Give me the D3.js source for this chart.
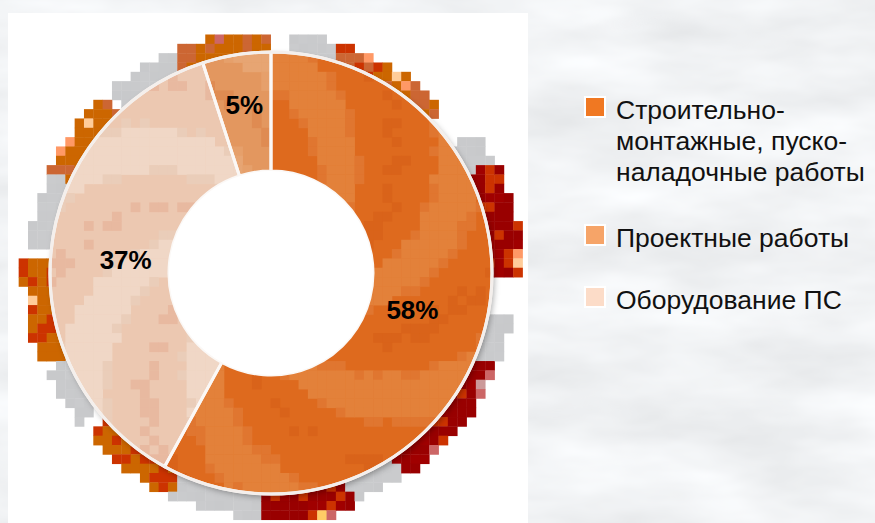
<!DOCTYPE html>
<html><head><meta charset="utf-8">
<script src="https://cdn.jsdelivr.net/npm/d3@7/dist/d3.min.js"></script>
<style>html,body{margin:0;padding:0;background:#e2e4e8;}svg{display:block;}</style>
</head><body>
<svg id="chart" width="875" height="523"></svg>
<script>
// ---- data ----
const categories = ["Строительно-монтажные, пуско-наладочные работы", "Проектные работы", "Оборудование ПС"];
const legendLines = [["Строительно-", "монтажные, пуско-", "наладочные работы"], ["Проектные работы"], ["Оборудование ПС"]];
const values = [58, 5, 37];
const labels = ["58%", "5%", "37%"];
const pieOrder = [0, 2, 1]; // clockwise from 12 o'clock
const swatchColors = ["#f07822", "#f6a468", "#fcdcc8"];
const sliceColors = ["#de6a1e", "#e3975f", "#ecc8b1"];
const sliceVariants = [
  ["#e3813a", "#e07630", "#d9631a"],
  ["#e7a573", "#e6a06b", "#df8b52"],
  ["#f0d7c6", "#eacdb9", "#e8b9a0"]
];
// decorative pixel rim: [startDeg, endDeg, extentPx, palette]
const GRAY = ["#c9cacc", "#cacbcd", "#c8c9cb"];
const DRED = ["#990000", "#990000", "#990000", "#a00000", "#cc3300"];
const RED = ["#cc3300", "#cc3300", "#cc3300", "#cc6633"];
const ORNG = ["#cc6600", "#cc6600", "#cc6600", "#cc6600", "#cc6633"];
const ORED = ["#cc6600", "#cc3300", "#cc6600", "#cc6600", "#cc3300"];
const rimSegments = [
  [318, 336, 22, GRAY], [336, 359, 22, ORNG], [5, 16, 20, GRAY], [16, 28, 18, RED],
  [28, 47, 18, ORNG], [55, 63, 28, GRAY], [63, 92, 31, DRED], [100, 112, 25, GRAY],
  [112, 146, 24, DRED], [146, 160, 22, GRAY], [160, 183, 30, DRED], [183, 204, 24, GRAY],
  [204, 228, 24, ORED], [232, 247, 22, GRAY], [248, 274, 27, ORED], [276, 295, 22, GRAY],
  [295, 316, 24, ORNG]
];
const edgeTints = ["#ffcc99", "#ffcc66", "#ff9966", "#cc9999", "#cc6666"];

// ---- layout ----
const W = 875, H = 523;
const cx = 271, cy = 273, R = 221, r0 = 102;
const cell = 9.33, gx0 = 0, gy0 = 6.5;
const svg = d3.select("#chart");
const defs = svg.append("defs");

// textured background
const f = defs.append("filter").attr("id", "clouds").attr("x", 0).attr("y", 0).attr("width", "100%").attr("height", "100%");
f.append("feTurbulence").attr("type", "fractalNoise").attr("baseFrequency", "0.006 0.018").attr("numOctaves", 4).attr("seed", 7);
f.append("feColorMatrix").attr("type", "matrix")
  .attr("values", "0.3 0 0 0 0.73  0.3 0 0 0 0.745  0.3 0 0 0 0.76  0 0 0 0 1");
svg.append("rect").attr("width", W).attr("height", H).attr("filter", "url(#clouds)");

// white panel
svg.append("rect").attr("x", 8).attr("y", 13).attr("width", 520).attr("height", H - 13).attr("fill", "#ffffff");

function hash(i, j) { const s = Math.sin(i * 12.9898 + j * 78.233) * 43758.5453; return s - Math.floor(s); }
function polar(x, y) {
  const dx = x - cx, dy = y - cy;
  let a = Math.atan2(dx, -dy) * 180 / Math.PI; if (a < 0) a += 360;
  return { d: Math.hypot(dx, dy), a };
}

// decorative rim cells
const rimG = svg.append("g");
for (let i = 0; gx0 + i * cell < 540; i++) {
  for (let j = -1; gy0 + j * cell < H; j++) {
    const x = gx0 + i * cell, y = gy0 + j * cell;
    const p = polar(x + cell / 2, y + cell / 2);
    if (p.d < R - 14) continue;
    const seg = rimSegments.find(s => p.a >= s[0] && p.a < s[1]);
    if (!seg) continue;
    if (p.d > R + seg[2]) continue;
    const h = hash(i, j);
    let col = seg[3][Math.floor(h * seg[3].length)];
    if (seg[3] !== GRAY && p.d > R + seg[2] - cell && hash(j, i) > 0.8) col = edgeTints[Math.floor(hash(i + 3, j) * edgeTints.length)];
    rimG.append("rect").attr("x", x).attr("y", y).attr("width", cell + 0.4).attr("height", cell + 0.4).attr("fill", col);
  }
}

// shadow
const sh = defs.append("filter").attr("id", "shadow").attr("x", "-20%").attr("y", "-20%").attr("width", "140%").attr("height", "140%");
sh.append("feDropShadow").attr("dx", 2).attr("dy", 3).attr("stdDeviation", 3).attr("flood-color", "#000").attr("flood-opacity", 0.35);

const g = svg.append("g").attr("transform", `translate(${cx},${cy})`);
g.append("circle").attr("r", R).attr("fill", "#fff").attr("filter", "url(#shadow)");

const data = categories.map((c, i) => ({ i, c, v: values[i] }));
const pie = d3.pie().value(d => d.v).sort((a, b) => pieOrder.indexOf(a.i) - pieOrder.indexOf(b.i));
const arcs = pie(data);
const arc = d3.arc().innerRadius(r0).outerRadius(R);

arcs.forEach((a, k) => {
  defs.append("clipPath").attr("id", "clip" + k).append("path").attr("d", arc(a)).attr("transform", `translate(${cx},${cy})`);
});

g.selectAll("path.slice").data(arcs).join("path").attr("class", "slice")
  .attr("d", arc).attr("fill", d => sliceColors[d.data.i]);

// pixel texture inside slices
const texG = svg.append("g");
arcs.forEach((a, k) => {
  const sg = texG.append("g").attr("clip-path", `url(#clip${k})`);
  const a0 = a.startAngle * 180 / Math.PI, a1 = a.endAngle * 180 / Math.PI;
  const vars = sliceVariants[a.data.i];
  for (let i = 0; gx0 + i * cell < 520; i++) {
    for (let j = -1; gy0 + j * cell < H; j++) {
      const x = gx0 + i * cell, y = gy0 + j * cell;
      const p = polar(x + cell / 2, y + cell / 2);
      if (p.d < r0 - cell || p.d > R + cell) continue;
      if (p.a < a0 - 4 || p.a > a1 + 4) continue;
      const h = hash(i, j);
      const v = Math.sin(p.a * Math.PI / 180 * 6 + p.d / 28) + (h - 0.5) * 0.35;
      let col = null;
      if (v > 0.55) col = vars[0];
      else if (v > 0.3) col = vars[1];
      else if (v < -0.85 && h > 0.4) col = vars[2];
      if (!col) continue;
      sg.append("rect").attr("x", x).attr("y", y).attr("width", cell + 0.4).attr("height", cell + 0.4).attr("fill", col);
    }
  }
});

// outlines
const og = svg.append("g").attr("transform", `translate(${cx},${cy})`);
og.selectAll("path").data(arcs).join("path").attr("d", arc)
  .attr("fill", "none").attr("stroke", "#fbf8f6").attr("stroke-width", 3).attr("stroke-linejoin", "round");
og.append("circle").attr("r", r0).attr("fill", "#fff");
og.append("circle").attr("r", R).attr("fill", "none").attr("stroke", "#f4efec").attr("stroke-width", 3);

// labels
const lblArcBig = d3.arc().innerRadius(146).outerRadius(146);
const lblArcSmall = d3.arc().innerRadius(170).outerRadius(170);
og.selectAll("text").data(arcs).join("text")
  .attr("transform", d => {
    const c = (d.endAngle - d.startAngle > 0.5 ? lblArcBig : lblArcSmall).centroid(d);
    return `translate(${c[0]},${c[1]})`;
  })
  .attr("text-anchor", "middle").attr("dy", "0.36em")
  .attr("font-family", "Liberation Sans, Arial, sans-serif").attr("font-weight", "bold").attr("font-size", 26)
  .attr("fill", "#000").text(d => labels[d.data.i]);

// legend
const lg = svg.append("g");
const legendY = [97, 225, 287];
const lineH = 31;
legendLines.forEach((lines, i) => {
  const row = lg.append("g").attr("transform", `translate(585,${legendY[i]})`);
  row.append("rect").attr("width", 20).attr("height", 20).attr("fill", swatchColors[i]).attr("stroke", "#fff").attr("stroke-width", 2);
  const t = row.append("text").attr("x", 31).attr("y", 22)
    .attr("font-family", "Liberation Sans, Arial, sans-serif").attr("font-size", 26.5).attr("fill", "#111");
  lines.forEach((ln, k) => t.append("tspan").attr("x", 31).attr("dy", k === 0 ? 0 : lineH).text(ln));
});
</script>
</body></html>
